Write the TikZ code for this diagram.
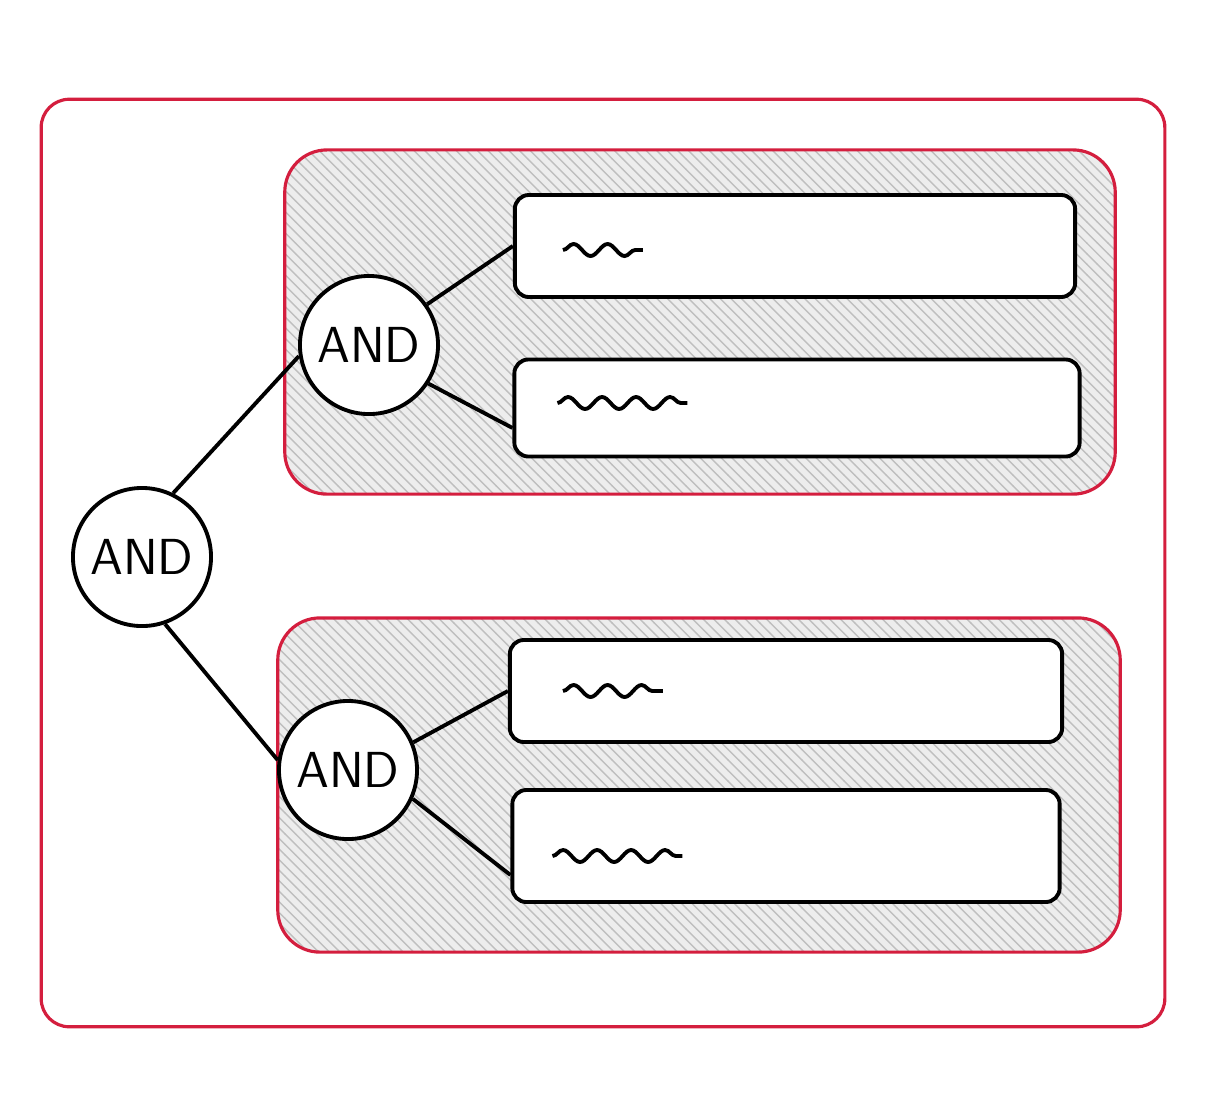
\documentclass[tikz,border=0pt]{standalone}
\usetikzlibrary{patterns,decorations.pathmorphing}
\definecolor{penred}{RGB}{212,30,62}
\begin{document}
\begin{tikzpicture}[x=0.01cm,y=-0.01cm]
        \tikzstyle{frame_style} = [draw=penred,line width=0.9pt,rounded corners=8pt,inner sep=0pt]
        \tikzstyle{group_style} = [frame_style,rounded corners=12pt,preaction={fill=gray!14},preaction={pattern=north west lines,pattern color=gray!50}]
        \tikzstyle{box_style} = [draw=black,fill=white,line width=1.1pt,rounded corners=4pt,inner sep=0pt]
        \tikzstyle{and_style} = [circle,draw=black,fill=white,line width=1.1pt,minimum size=1.38cm,inner sep=0pt,font=\sffamily\Large]
        \tikzstyle{edge_style} = [draw=black,line width=1.1pt]
        \tikzstyle{squiggle} = [draw=black,line width=1.1pt,decorate,decoration={snake,segment length=0.34cm,amplitude=0.06cm}]
        \useasboundingbox (0,0) rectangle (1230,1108);
        \node[frame_style,minimum width=11.23cm,minimum height=9.27cm] (outer) at (603,563) {};
        \node[group_style,minimum width=8.3cm,minimum height=3.44cm] (gTop) at (700,322) {};
        \node[group_style,minimum width=8.42cm,minimum height=3.34cm] (gBot) at (699,785) {};
        \node[box_style,minimum width=5.6cm,minimum height=1.02cm] (b1) at (795,246) {};
        \node[box_style,minimum width=5.65cm,minimum height=0.97cm] (b2) at (797,408) {};
        \node[box_style,minimum width=5.52cm,minimum height=1.02cm] (b3) at (786,691) {};
        \node[box_style,minimum width=5.47cm,minimum height=1.12cm] (b4) at (786,846) {};
        \draw[squiggle] ([xshift=0.5cm,yshift=-0.04cm]b1.west) -- ++(80,0);
        \draw[squiggle] ([xshift=0.45cm,yshift=0.05cm]b2.west) -- ++(130,0);
        \draw[squiggle] ([xshift=0.55cm]b3.west) -- ++(100,0);
        \draw[squiggle] ([xshift=0.42cm,yshift=-0.1cm]b4.west) -- ++(130,0);
        \node[and_style] (aT) at (369,345) {AND};
        \node[and_style] (aL) at (142,557) {AND};
        \node[and_style] (aB) at (348,770) {AND};
        \draw[edge_style]  (aL.64) -- (aT.189);
        \draw[edge_style]  (aL.-71) -- (aB.172);
        \draw[edge_style]  (aT.35) -- (b1.west);
        \draw[edge_style]  (aT.-33) -- (b2.184);
        \draw[edge_style]  (aB.23) -- (b3.west);
        \draw[edge_style]  (aB.-24) -- (b4.186);
\end{tikzpicture}
\end{document}
